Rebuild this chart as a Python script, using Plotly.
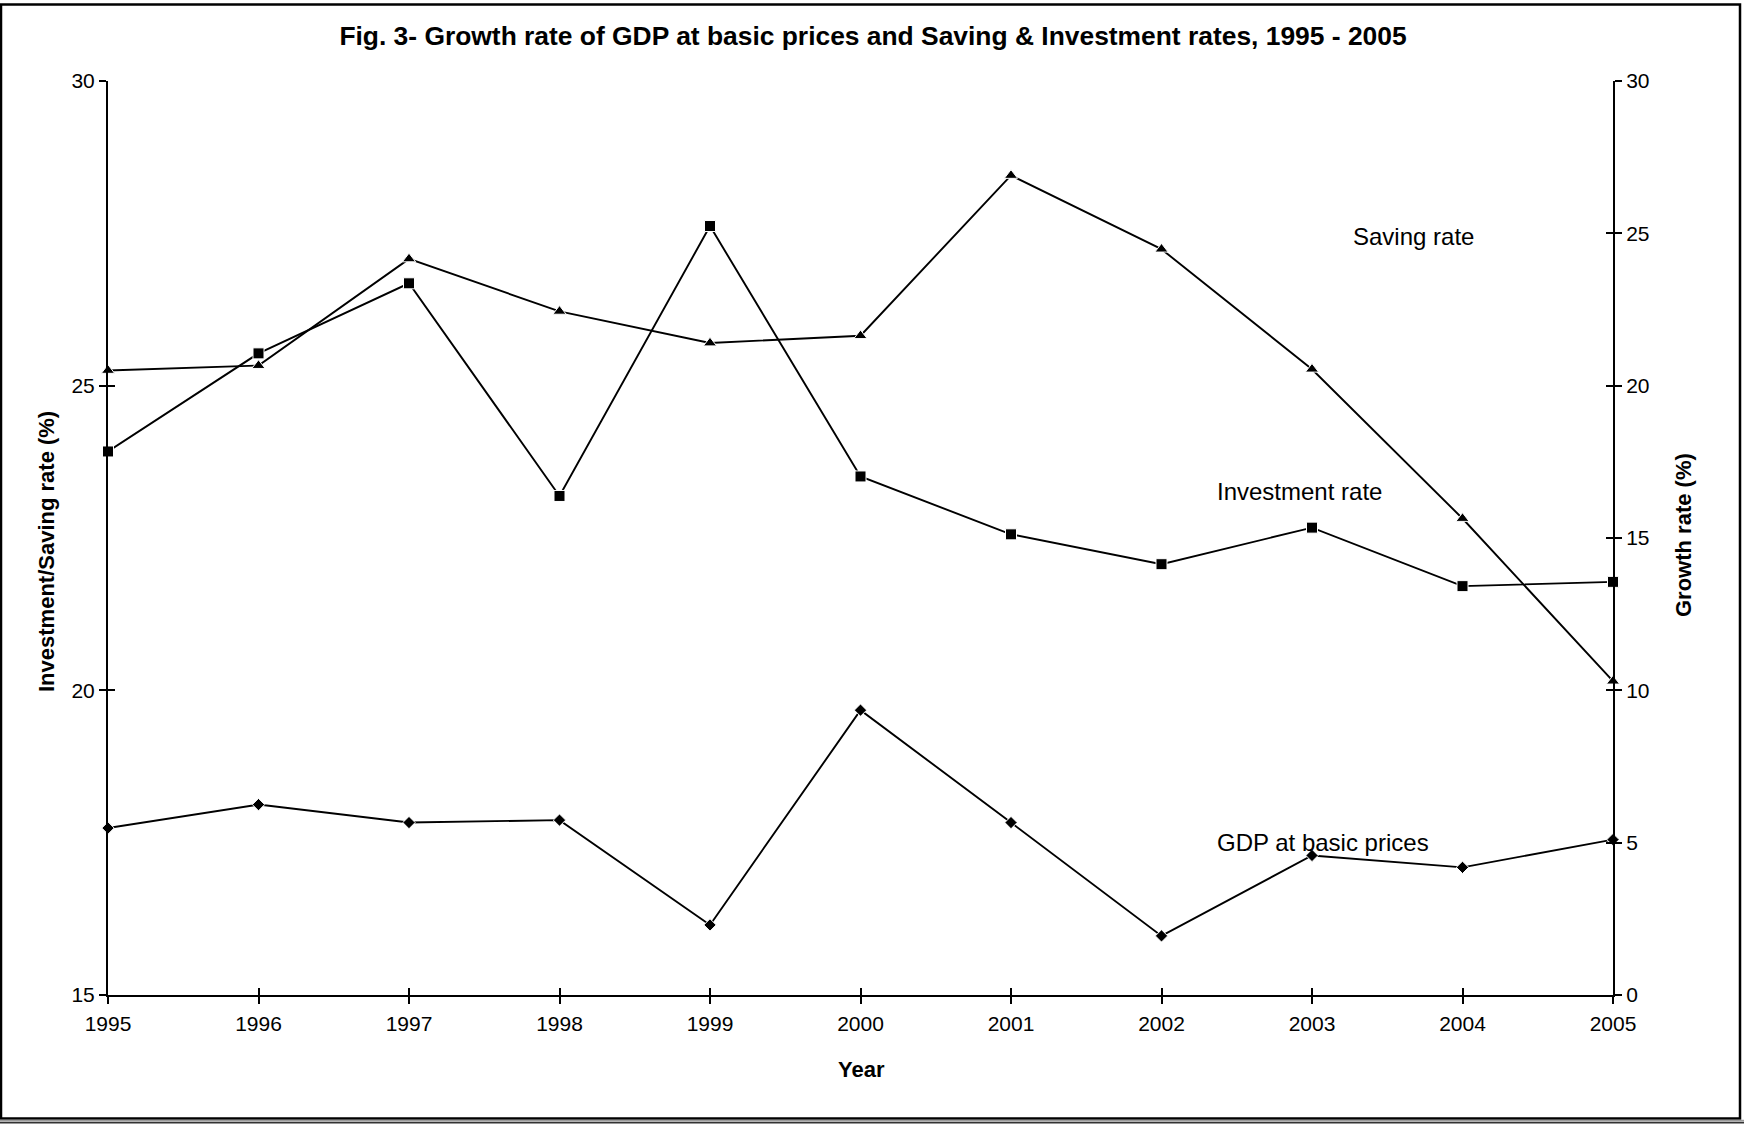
import plotly.graph_objects as go

# ---- data -------------------------------------------------------------
years = [1995, 1996, 1997, 1998, 1999, 2000, 2001, 2002, 2003, 2004, 2005]
saving_rate = [25.25, 25.33, 27.08, 26.22, 25.70, 25.82, 28.45, 27.24, 25.27, 22.82, 20.15]
investment_rate = [23.92, 25.53, 26.68, 23.19, 27.62, 23.51, 22.56, 22.07, 22.67, 21.71, 21.78]
gdp_growth = [5.48, 6.25, 5.66, 5.74, 2.30, 9.35, 5.66, 1.94, 4.58, 4.19, 5.10]

left_ticks = [15, 20, 25, 30]
right_ticks = [0, 5, 10, 15, 20, 25, 30]

# ---- page geometry ----------------------------------------------------
W, H = 1744, 1126
ML, MR, MT, MB = 108, 131, 81, 131
PW, PH = W - ML - MR, H - MT - MB

FONT = "Liberation Sans, Arial, sans-serif"
BLACK = "#000000"


def px_x(px):
    return (px - ML) / PW


def px_y(py):
    return (H - MB - py) / PH


fig = go.Figure()

line_style = dict(color=BLACK, width=1.9)
fig.add_trace(go.Scatter(
    x=years, y=saving_rate, mode="lines+markers", name="Saving rate",
    line=line_style, cliponaxis=False,
    marker=dict(symbol="triangle-up", size=11.5, color=BLACK,
                line=dict(color="white", width=1)),
    xaxis="x", yaxis="y"))
fig.add_trace(go.Scatter(
    x=years, y=investment_rate, mode="lines+markers", name="Investment rate",
    line=line_style, cliponaxis=False,
    marker=dict(symbol="square", size=11, color=BLACK,
                line=dict(color="white", width=1)),
    xaxis="x", yaxis="y"))
fig.add_trace(go.Scatter(
    x=years, y=gdp_growth, mode="lines+markers", name="GDP at basic prices",
    line=line_style, cliponaxis=False,
    marker=dict(symbol="diamond", size=9.5, color=BLACK,
                line=dict(color="white", width=1)),
    xaxis="x", yaxis="y2"))

# empty traces so the companion tick axes get a subplot to live on
for xa, ya in (("x2", "y"), ("x", "y3"), ("x", "y4")):
    fig.add_trace(go.Scatter(x=[], y=[], xaxis=xa, yaxis=ya, mode="lines",
                             hoverinfo="skip", showlegend=False))

tickfont = dict(family=FONT, size=21, color=BLACK)
axis_common = dict(showgrid=False, zeroline=False, showline=True,
                   linecolor=BLACK, linewidth=2, ticks="outside",
                   ticklen=7, tickwidth=2, tickcolor=BLACK, tickfont=tickfont)
# companion axes drawing the inner half of each cross tick
inner_common = dict(showgrid=False, zeroline=False, showline=False,
                    ticks="inside", ticklen=7, tickwidth=2, tickcolor=BLACK,
                    showticklabels=False)

fig.update_layout(
    width=W, height=H,
    margin=dict(l=ML, r=MR, t=MT, b=MB, pad=0),
    paper_bgcolor="white", plot_bgcolor="white",
    showlegend=False,
    font=dict(family=FONT, color=BLACK),
    title=dict(
        text="<b>Fig. 3- Growth rate of GDP at basic prices and Saving & Investment rates, 1995 - 2005</b>",
        font=dict(family=FONT, size=26.4, color=BLACK),
        x=873 / W, xanchor="center", y=1 - 36 / H, yanchor="middle",
        xref="container", yref="container"),
    xaxis=dict(range=[years[0], years[-1]], tickvals=years, anchor="y",
               ticklabelstandoff=2, **axis_common),
    yaxis=dict(range=[left_ticks[0], left_ticks[-1]], tickvals=left_ticks,
               anchor="x", side="left", **axis_common),
    yaxis2=dict(range=[right_ticks[0], right_ticks[-1]], tickvals=right_ticks,
                anchor="x", side="right", overlaying="y", **axis_common),
    xaxis2=dict(range=[years[0], years[-1]], tickvals=years, anchor="y",
                overlaying="x", side="bottom", **inner_common),
    yaxis3=dict(range=[left_ticks[0], left_ticks[-1]], tickvals=left_ticks,
                anchor="x", side="left", overlaying="y", **inner_common),
    yaxis4=dict(range=[right_ticks[0], right_ticks[-1]], tickvals=right_ticks,
                anchor="x", side="right", overlaying="y", **inner_common),
)

# axis titles
title_font = dict(family=FONT, size=22, color=BLACK)
fig.add_annotation(text="<b>Year</b>", xref="paper", yref="paper",
                   x=px_x(861), y=px_y(1069), showarrow=False,
                   xanchor="center", yanchor="middle", font=title_font)
fig.add_annotation(text="<b>Investment/Saving rate (%)</b>", xref="paper",
                   yref="paper", x=px_x(46), y=px_y(552), textangle=-90,
                   showarrow=False, xanchor="center", yanchor="middle",
                   font=title_font)
fig.add_annotation(text="<b>Growth rate (%)</b>", xref="paper", yref="paper",
                   x=px_x(1683), y=px_y(535), textangle=-90, showarrow=False,
                   xanchor="center", yanchor="middle", font=title_font)

# series labels placed in data space
label_font = dict(family=FONT, size=24, color=BLACK)
fig.add_annotation(text="Saving rate", xref="x", yref="y", x=2003.26, y=27.44,
                   showarrow=False, xanchor="left", yanchor="middle",
                   font=label_font)
fig.add_annotation(text="Investment rate", xref="x", yref="y", x=2002.355,
                   y=23.26, showarrow=False, xanchor="left", yanchor="middle",
                   font=label_font)
fig.add_annotation(text="GDP at basic prices", xref="x", yref="y2", x=2002.355,
                   y=4.99, showarrow=False, xanchor="left", yanchor="middle",
                   font=label_font)

# outer frame with a double rule at the foot
fig.add_shape(type="rect", xref="paper", yref="paper",
              x0=px_x(1), x1=px_x(1740), y0=px_y(1118.5), y1=px_y(4.5),
              line=dict(color=BLACK, width=2.5), layer="above")
fig.add_shape(type="line", xref="paper", yref="paper",
              x0=px_x(0), x1=px_x(1744), y0=px_y(1120.8), y1=px_y(1120.8),
              line=dict(color="#9a9a9a", width=2), layer="above")
fig.add_shape(type="line", xref="paper", yref="paper",
              x0=px_x(0), x1=px_x(1744), y0=px_y(1122.8), y1=px_y(1122.8),
              line=dict(color="#333333", width=1.5), layer="above")

fig.write_html("out.html")
